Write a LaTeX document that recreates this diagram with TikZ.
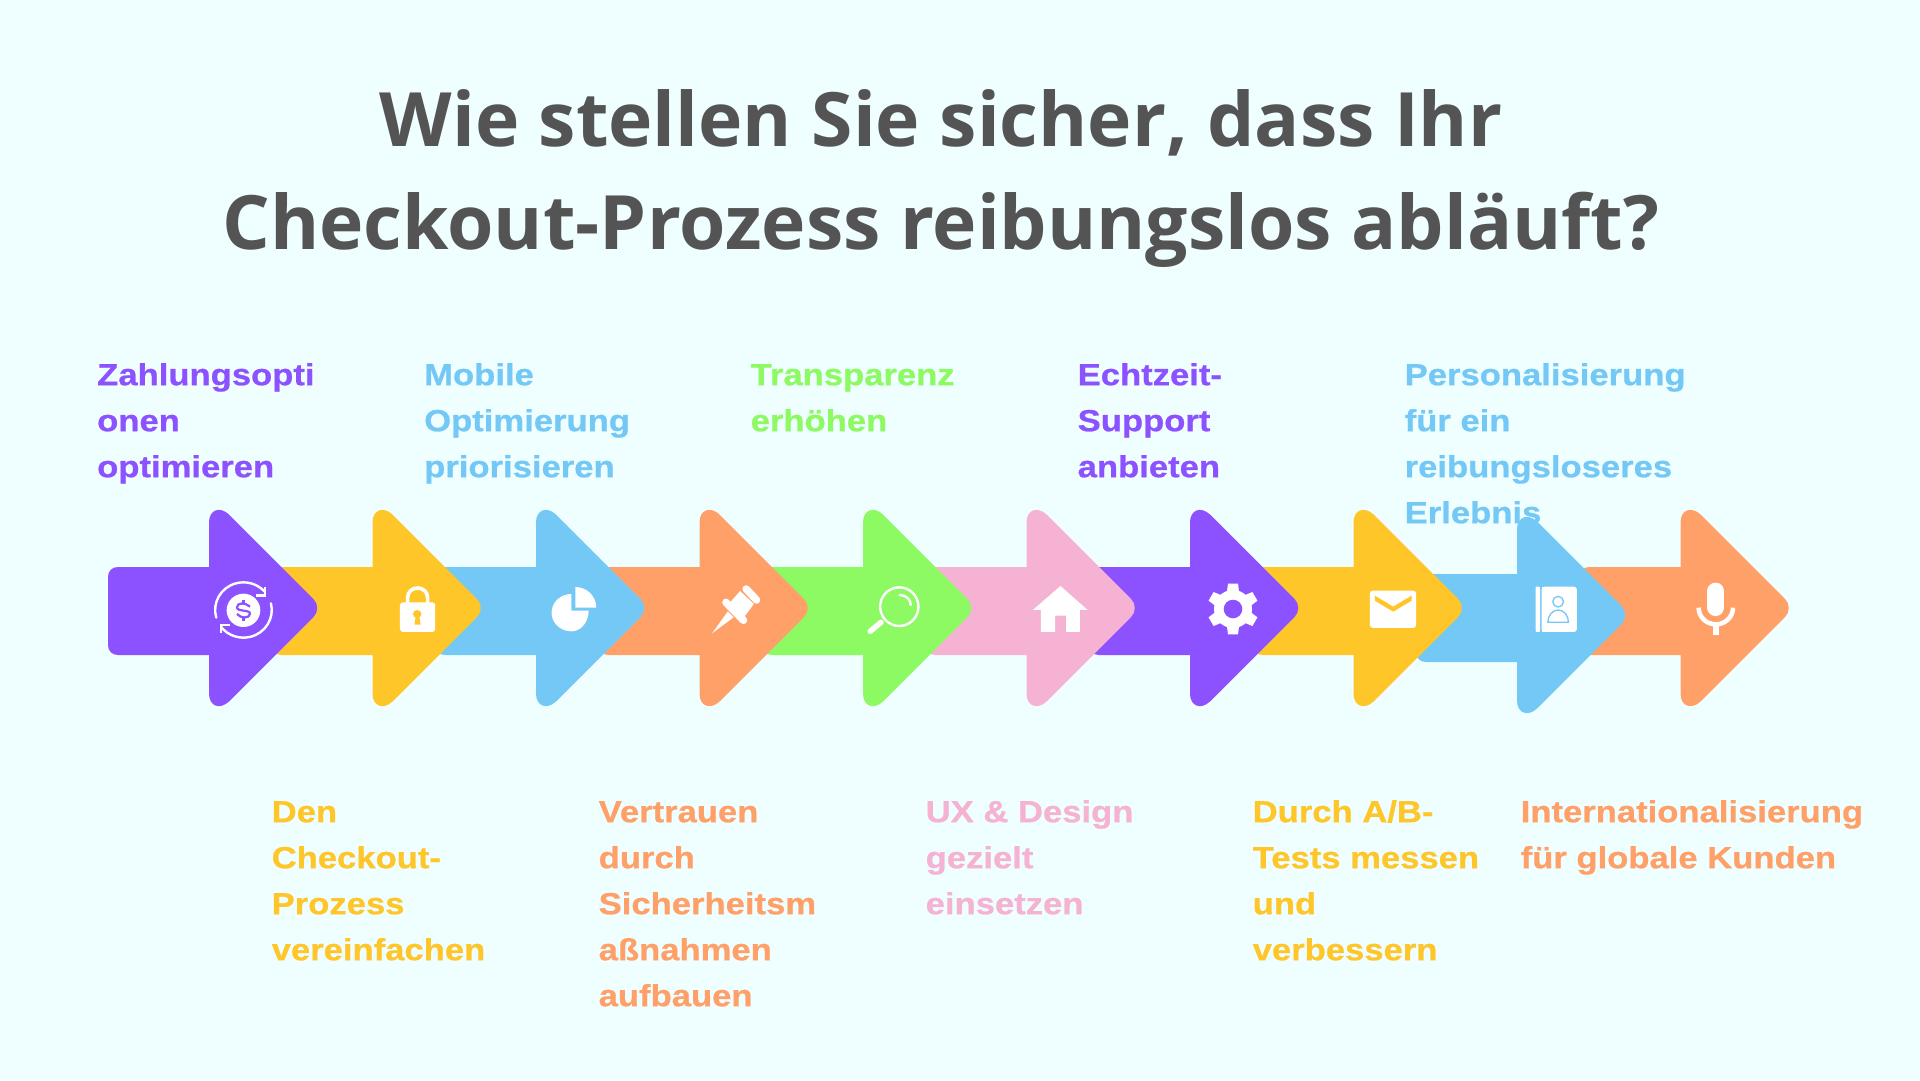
\documentclass[tikz,border=0pt]{standalone}
\usepackage{fontspec}
\setmainfont{Liberation Sans}
\newfontfamily\titlefont{Open Sans}[BoldFont={Open Sans Bold}]
\newfontfamily\labelfont{Liberation Sans}[BoldFont={Liberation Sans Bold},BoldFeatures={FakeStretch=1.135,FakeBold=0.7}]
\definecolor{bgc}{HTML}{EFFFFF}
\definecolor{purp}{HTML}{8C52FF}
\definecolor{yell}{HTML}{FFC629}
\definecolor{blu}{HTML}{74C8F5}
\definecolor{oran}{HTML}{FFA069}
\definecolor{gree}{HTML}{8DF963}
\definecolor{pnk}{HTML}{F5B2D3}
\definecolor{titlec}{HTML}{545454}
\newcommand\arw[3]{%
\begin{scope}[shift={({163.5*#1},#2)}]
\fill[#3] (108,577) .. controls (108,571) and (112,567) .. (118,567) -- (209,567)
 -- (209,522.5) .. controls (209,509.5) and (220,506) .. (229,514.5)
 -- (313.5,599) .. controls (318.5,604) and (318.5,612) .. (313.5,617)
 -- (229,701.5) .. controls (220,710) and (209,706.5) .. (209,693.5)
 -- (209,655) -- (118,655) .. controls (112,655) and (108,651) .. (108,645) -- cycle;
\end{scope}}
\newcommand\fl{\rule{0pt}{30pt}}
\tikzset{
 lab/.style={anchor=north west,inner sep=0pt,align=left,font=\labelfont\bfseries\fontsize{30.5}{46}\selectfont},
 heading/.style={inner sep=0pt,align=center,text=titlec,font=\titlefont\bfseries\fontsize{75}{103}\selectfont},
 zoomA/.style={shift={(90,490)},xscale=0.3827,yscale=0.3333},
 zoomB/.style={shift={(680,490)},xscale=0.3827,yscale=0.3333},
 zoomC/.style={shift={(1260,490)},xscale=0.3827,yscale=0.3333},
 ico/.style={draw=white,line width=2.4pt,fill=none}
}
\begin{document}
\begin{tikzpicture}[x=1pt,y=1pt,yscale=-1]
\path[use as bounding box,fill=bgc] (0,0) rectangle (1920,1080);

\node[heading,anchor=center] (title) at (941,179) {Wie stellen Sie sicher, dass Ihr\\Checkout-Prozess reibungslos abläuft?};

\node[lab,text=purp] (l1) at (97,355) {\fl Zahlungsopti\\onen\\optimieren};
\node[lab,text=blu] (l3) at (424,355) {\fl Mobile\\Optimierung\\priorisieren};
\node[lab,text=gree] (l5) at (750.5,355) {\fl Transparenz\\erhöhen};
\node[lab,text=purp] (l7) at (1077.5,355) {\fl Echtzeit-\\Support\\anbieten};
\node[lab,text=blu] (l9) at (1404.5,355) {\fl Personalisierung\\für ein\\reibungsloseres\\Erlebnis};

\node[lab,text=yell] (l2) at (271.5,792) {\fl Den\\Checkout-\\Prozess\\vereinfachen};
\node[lab,text=oran] (l4) at (598.5,792) {\fl Vertrauen\\durch\\Sicherheitsm\\aßnahmen\\aufbauen};
\node[lab,text=pnk] (l6) at (925.5,792) {\fl UX \& Design\\gezielt\\einsetzen};
\node[lab,text=yell] (l8) at (1252.5,792) {\fl Durch A/B-\\Tests messen\\und\\verbessern};
\node[lab,text=oran] (l10) at (1520.5,792) {\fl Internationalisierung\\für globale Kunden};

\arw{9}{0}{oran}
\arw{8}{7}{blu}
\arw{7}{0}{yell}
\arw{6}{0}{purp}
\arw{5}{0}{pnk}
\arw{4}{0}{gree}
\arw{3}{0}{oran}
\arw{2}{0}{blu}
\arw{1}{0}{yell}
\arw{0}{0}{purp}

% icon 1: money cycle
\begin{scope}[zoomA]
\fill[white] (401,361) ellipse [x radius=44pt,y radius=50pt];
\draw[purp,line width=2.2pt] (418,350) .. controls (405,336) and (384,338) .. (384,352) .. controls (384,366) and (418,358) .. (418,371) .. controls (418,386) and (394,386) .. (384,372);
\draw[purp,line width=2.2pt] (401,330) -- (401,342) (401,381) -- (401,393);
\draw[ico,line cap=round] (401,360) ++(164:74pt and 83pt) arc[start angle=164,end angle=318,x radius=74pt,y radius=83pt];
\draw[ico,line cap=round] (401,360) ++(-14:74pt and 83pt) arc[start angle=-14,end angle=142,x radius=74pt,y radius=83pt];
\draw[ico] (458,290) -- (458,317) -- (435,317);
\draw[ico] (342,430) -- (342,405) -- (365,405);
\end{scope}
% icon 2: lock
\begin{scope}[zoomA]
\fill[white,rounded corners=3pt] (810,337) rectangle (902,426);
\draw[white,line width=3.6pt] (830,340) -- (830,322) arc[start angle=180,end angle=360,x radius=26pt,y radius=28pt] -- (882,340);
\fill[yell] (855,372) ellipse [x radius=11pt,y radius=12pt];
\fill[yell] (851,378) -- (860,378) -- (864,404) -- (848,404) -- cycle;
\end{scope}
% icon 3: pie
\begin{scope}[zoomA]
\fill[white] (1258,362) -- (1258,312) arc[start angle=-90,end angle=-270,x radius=52pt,y radius=56pt] arc[start angle=90,end angle=0,x radius=45pt,y radius=62pt] -- (1303,362) -- cycle;
\fill[white] (1268,353) -- (1268,291) arc[start angle=-90,end angle=0,x radius=55pt,y radius=62pt] -- cycle;
\end{scope}
% icon 4: pin
\begin{scope}[zoomB]
\draw[white,line width=7.5pt,line cap=round] (173,297) -- (200,330);
\draw[white,line width=7.5pt,line cap=round] (120,337) -- (166,391);
\fill[white] (157,303) -- (193,342) -- (165,385) -- (125,345) -- cycle;
\fill[white] (84,430) -- (125,364) -- (140,382) -- cycle;
\end{scope}
% icon 5: magnifier
\begin{scope}[zoomB]
\draw[ico] (573,350) ellipse [x radius=50pt,y radius=58pt];
\draw[white,line width=5.5pt,line cap=round] (525,397) -- (497,424);
\draw[white,line width=2.4pt,line cap=round] (574,315) arc[start angle=-90,end angle=0,x radius=29pt,y radius=30pt];
\end{scope}
% icon 6: house
\begin{scope}[zoomB]
\fill[white] (994,288) -- (1065,360) -- (1045,360) -- (1045,426) -- (1009,426) -- (1009,377) -- (980,377) -- (980,426) -- (943,426) -- (943,360) -- (922,360) -- cycle;
\end{scope}
% icon 7: gear
\begin{scope}[shift={(1233,609)}]
\fill[white] (0,0) circle [radius=19pt];
\foreach \a in {30,90,150,210,270,330}{
 \fill[white,rotate=\a] (14,-6.5) -- (25.3,-5) -- (25.3,5) -- (14,6.5) -- cycle;}
\fill[purp] (0,0) circle [radius=9.3pt];
\end{scope}
% icon 8: envelope
\begin{scope}[zoomC]
\fill[white,rounded corners=3pt] (287,302) rectangle (408,414);
\fill[yell] (300,317) -- (348,350) -- (396,317) -- (396,332) -- (348,365) -- (300,332) -- cycle;
\end{scope}
% icon 9: contact book
\begin{scope}[zoomC]
\fill[white,rounded corners=1pt] (720,290) rectangle (732,426);
\fill[white,rounded corners=3pt] (736,290) rectangle (828,426);
\fill[white] (736,290) rectangle (760,426);
\draw[blu,line width=1.3pt] (779,335) ellipse [x radius=14pt,y radius=16pt];
\draw[blu,line width=1.3pt] (752,397) arc[start angle=180,end angle=360,x radius=27pt,y radius=37pt] -- cycle;
\end{scope}
% icon 10: microphone
\begin{scope}[zoomC]
\draw[white,line width=16.8pt,line cap=round] (1191,303) -- (1191,353);
\draw[white,line width=4.5pt] (1146,353) arc[start angle=180,end angle=0,x radius=45pt,y radius=50pt];
\draw[white,line width=5.5pt] (1191,400) -- (1191,436);
\end{scope}
\end{tikzpicture}
\end{document}
